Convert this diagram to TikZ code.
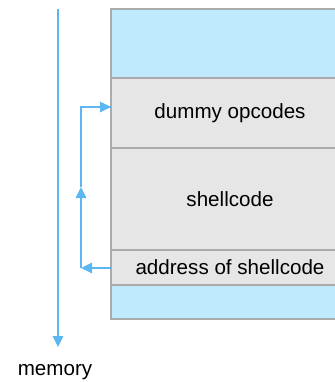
\documentclass[tikz,border=0pt]{standalone}
\usepackage{fontspec}
\setmainfont{Liberation Sans}
\usetikzlibrary{arrows.meta}
\definecolor{bandblue}{HTML}{BFE9FC}
\definecolor{bandgray}{HTML}{E6E6E6}
\definecolor{edgegray}{HTML}{ABABAB}
\definecolor{arrowblue}{HTML}{5BB6F2}
\tikzset{
  band/.style={draw=edgegray, line width=2pt, minimum width=238pt, inner sep=0pt, outer sep=0pt, anchor=north, font=\fontsize{20.6}{24}\selectfont},
  blueband/.style={band, fill=bandblue},
  grayband/.style={band, fill=bandgray},
  flow/.style={draw=arrowblue, line width=2.6pt, -{Triangle[length=11pt,width=10pt]}},
  flowplain/.style={draw=arrowblue, line width=2.6pt},
}
\begin{document}
\begin{tikzpicture}[x=1pt,y=-1pt]
\useasboundingbox (0,0) rectangle (334,382);
\node[blueband, minimum height=69pt] (top) at (230,9) {};
\node[grayband, minimum height=70pt] (dummy) at (230,78) {dummy opcodes};
\node[grayband, minimum height=102pt] (shell) at (230,148) {shellcode};
\node[grayband, minimum height=35pt] (addr) at (230,250) {address of shellcode};
\node[blueband, minimum height=34pt] (bottom) at (230,285) {};
\coordinate (memtop) at (58,9);
\coordinate (memend) at (58,347);
\node[font=\fontsize{20.6}{24}\selectfont, anchor=base] (mem) at (55,375) {memory};
\draw[flow] (memtop) -- (memend);
\coordinate (c1) at (81,268);
\coordinate (c2) at (81,187);
\coordinate (c3) at (81,107);
\draw[flow] (addr.west |- c1) -- (c1);
\draw[flow] (c1) -- (c2);
\draw[flowplain, line join=miter] (c2) -- (c3) -- (dummy.west |- c3);
\draw[flow] ([xshift=-12pt]dummy.west |- c3) -- (dummy.west |- c3);
\end{tikzpicture}
\end{document}
